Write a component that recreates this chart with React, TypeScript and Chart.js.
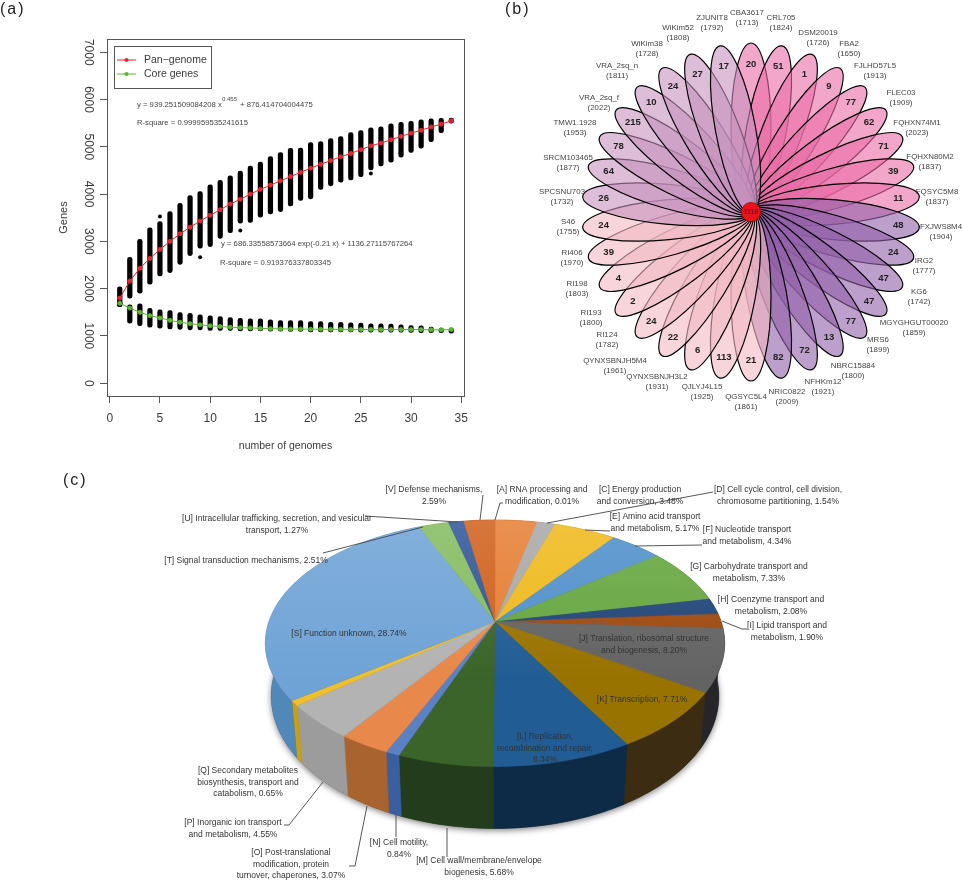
import React, { useEffect, useRef } from "react";
import { Chart, registerables } from "chart.js";
Chart.register(...registerables);

const FONT = '"Liberation Sans", Arial, sans-serif';
const INK = "#3a3a3a";

// ---------- panel a ----------
const genomeCounts = [1,2,3,4,5,6,7,8,9,10,11,12,13,14,15,16,17,18,19,20,21,22,23,24,25,26,27,28,29,30,31,32,33,34];
const panMean = [1800,2160,2430,2640,2830,3000,3160,3300,3430,3550,3670,3790,3890,4000,4100,4190,4280,4370,4460,4550,4630,4710,4790,4860,4940,5020,5080,5150,5220,5290,5350,5420,5480,5550];
const coreMean = [1690,1590,1500,1430,1380,1330,1290,1260,1235,1215,1200,1185,1175,1170,1160,1155,1150,1148,1145,1143,1142,1140,1140,1138,1137,1137,1136,1136,1136,1135,1135,1130,1130,1135];
const panLow = [1620,1800,1905,2095,2270,2340,2515,2700,2855,2890,3065,3185,3385,3400,3510,3580,3630,3750,3865,3900,4100,4175,4250,4300,4370,4510,4595,4675,4780,4880,4970,5110,5300,5500];
const panHigh = [2040,2665,3045,3285,3420,3630,3805,3970,4055,4195,4290,4385,4485,4595,4675,4795,4880,4970,4975,5090,5110,5175,5215,5300,5345,5400,5420,5485,5520,5540,5570,5590,5600,5605];
const coreLow = [1620,1270,1215,1185,1165,1150,1140,1130,1130,1115,1115,1115,1105,1105,1105,1100,1100,1095,1095,1085,1085,1085,1085,1085,1080,1080,1080,1080,1080,1075,1070,1070,1070,1060];
const coreHigh = [1750,1660,1680,1585,1550,1535,1495,1480,1445,1425,1410,1390,1375,1360,1360,1340,1325,1325,1325,1305,1305,1290,1290,1280,1270,1255,1255,1250,1235,1220,1215,1185,1165,1165];
const outlierX = [5,9,13,26,33];
const outlierY = [3525,2665,3230,4435,5345];
const xTickValues = [0,5,10,15,20,25,30,35];
const yTickValues = [0,1000,2000,3000,4000,5000,6000,7000];
const seriesNames = ["Pan\u2212genome","Core genes"];

// ---------- panel b ----------
const strainNames = ["CBA3617","CRL705","DSM20019","FBA2","FJLHD57L5","FLEC03","FQHXN74M1","FQHXN80M2","FQSYC5M8","FXJWS8M4","IRG2","KG6","MGYGHGUT00020","MRS6","NBRC15884","NFHKm12","NRIC0822","QGSYC5L4","QJLYJ4L15","QYNXSBNJH3L2","QYNXSBNJH5M4","RI124","RI193","RI198","RI406","S46","SPCSNU703","SRCM103465","TMW1.1928","VRA_2sq_f","VRA_2sq_n","WiKim38","WiKim52","ZJUNIT8"];
const strainGenes = [1713,1824,1726,1650,1913,1909,2023,1837,1837,1904,1777,1742,1859,1899,1800,1921,2009,1861,1925,1931,1961,1782,1800,1803,1970,1755,1732,1877,1953,2022,1811,1728,1808,1792];
const strainUnique = [20,51,1,9,77,62,71,39,11,48,24,47,47,77,13,72,82,21,113,6,22,24,2,4,39,24,26,64,78,215,10,24,27,17];
const coreCount = "1119";
const strainLabelX = [747,781,818,849,875,901,917,930,937,941,924,919,914,878,853,823,787,746,702,657,615,607,591,577,572,568,562,568,575,599,617,647,678,712];
const strainLabelY = [13,18,33,44,66,93,123,157,192,227,261,292,323,340,366,382,392,397,387,377,361,335,313,284,253,222,192,158,123,98,66,44,28,18];

// ---------- panel c ----------
const cogShare = [0.01,3.48,1.54,5.17,4.34,7.33,2.08,1.90,8.20,7.71,8.34,5.68,0.84,3.07,4.55,0.65,28.74,2.51,1.27,2.59];
const cogTop = ["#5b9bd5","#e67e34","#a8a8a8","#efb91c","#4f8fca","#65a63f","#1f4478","#9e480e","#636363","#997300","#215c94","#3a6429","#5b80c4","#e8884a","#b3b3b3","#efc02c","#6fa3d6","#84bb60","#2f5597","#d0601c"];
const cogWall = ["#3c6f9e","#a85a24","#777777","#b98f10","#356a9c","#48782c","#12294a","#6a300a","#26262a","#3b2c12","#0d2a47","#233c1c","#3a5fa0","#a9632f","#9c9c9c","#caa10d","#5088ba","#5f8a44","#1e3a6a","#99461a"];
const cogLabels: string[][] = [
  ["[V] Defense mechanisms,","2.59%"],["[A] RNA processing and","modification, 0.01%"],["[C] Energy production","and conversion, 3.48%"],
  ["[D] Cell cycle control, cell division,","chromosome partitioning, 1.54%"],["[E] Amino acid transport","and metabolism, 5.17%"],
  ["[F] Nucleotide transport","and metabolism, 4.34%"],["[G] Carbohydrate transport and","metabolism, 7.33%"],["[H] Coenzyme transport and","metabolism, 2.08%"],
  ["[I] Lipid transport and","metabolism, 1.90%"],["[J] Translation, ribosomal structure","and biogenesis, 8.20%"],["[K] Transcription, 7.71%"],
  ["[L] Replication,","recombination and repair,","8.34%"],["[M] Cell wall/membrane/envelope","biogenesis, 5.68%"],["[N] Cell motility,","0.84%"],
  ["[O] Post-translational","modification, protein","turnover, chaperones, 3.07%"],["[P] Inorganic ion transport","and metabolism, 4.55%"],
  ["[Q] Secondary metabolites","biosynthesis, transport and","catabolism, 0.65%"],["[S] Function unknown, 28.74%"],
  ["[T] Signal transduction mechanisms, 2.51%"],["[U] Intracellular trafficking, secretion, and vesicular","transport, 1.27%"],
];
const cogLabelX = [434,542,640,778,655,747,749,771,787,644,642,545,479,399,291,233,248,349,246,277];
const cogLabelY = [490,490,490,490,517,530,567,600,626,639,700,737,861,843,853,823,771,634,561,519];
const cogLeaders: number[][] = [
  [480,520,483,495],[495,520,500,503,503,503],[458,522,365,516],[423,527,323,553],[547,523,713,492],[585,530,610,531],[635,546,702,545],
  [722,621,742,629,747,629],[323,782,289,825,284,825],[367,806,355,866,349,866],[396,815,396,837],[447,828,447,857],
];

function useChart(build: (c: HTMLCanvasElement) => Chart) {
  const ref = useRef<HTMLCanvasElement>(null);
  useEffect(() => {
    const chart = build(ref.current!);
    return () => chart.destroy();
  }, []);
  return ref;
}

function lines(ctx: CanvasRenderingContext2D, rows: string[], x: number, y: number, lh: number) {
  rows.forEach((r, i) => ctx.fillText(r, x, y + i * lh));
}

const PanelA = () => {
  const ref = useChart((canvas) => {
    const overlay = {
      id: "overlay",
      afterDatasetsDraw(chart: any) {
        const { ctx, chartArea: a } = chart;
        ctx.save();
        ctx.strokeStyle = "#555";
        ctx.lineWidth = 1;
        ctx.strokeRect(a.left + 0.5, a.top + 0.5, a.width, a.height);
        ctx.strokeRect(114.5, 46.5, 97, 42);
        const colors = ["#e8252c", "#5cb531"];
        [60, 74].forEach((y, i) => {
          ctx.strokeStyle = colors[i];
          ctx.fillStyle = colors[i];
          ctx.lineWidth = 1;
          ctx.beginPath(); ctx.moveTo(117, y); ctx.lineTo(136, y); ctx.stroke();
          ctx.beginPath(); ctx.arc(126.5, y, 2, 0, Math.PI * 2); ctx.fill();
          ctx.fillStyle = "#3a3a3a";
          ctx.font = `10.5px ${FONT}`;
          ctx.textAlign = "left"; ctx.textBaseline = "middle";
          ctx.fillText(seriesNames[i], 144, y);
        });
        ctx.font = `7.7px ${FONT}`;
        ctx.fillStyle = "#444";
        ctx.fillText("y = 939.251509084208 x", 137, 105);
        ctx.font = `6px ${FONT}`;
        ctx.fillText("0.455", 222, 99);
        ctx.font = `7.7px ${FONT}`;
        ctx.fillText("+ 876.414704004475", 240, 105);
        ctx.fillText("R-square = 0.999959535241615", 137, 123);
        ctx.fillText("y = 686.33558573664 exp(-0.21 x) + 1136.27115767264", 221, 244);
        ctx.fillText("R-square = 0.919376337803345", 220, 263);
        ctx.restore();
      },
    };
    return new Chart(canvas, {
      type: "bar",
      plugins: [overlay],
      data: {
        datasets: [
          { type: "bar", order: 5, grouped: false, data: genomeCounts.map((x, i) => ({ x, y: [panLow[i], panHigh[i]] })), backgroundColor: "#000", barThickness: 4.6, borderRadius: 2.3, borderSkipped: false },
          { type: "bar", order: 5, grouped: false, data: genomeCounts.map((x, i) => ({ x, y: [coreLow[i], coreHigh[i]] })), backgroundColor: "#000", barThickness: 4.6, borderRadius: 2.3, borderSkipped: false },
          { type: "scatter", order: 4, data: outlierX.map((x, i) => ({ x, y: outlierY[i] })), backgroundColor: "#000", pointRadius: 2, borderWidth: 0 },
          { type: "line", order: 2, label: seriesNames[0], data: genomeCounts.map((x, i) => ({ x, y: panMean[i] })), borderColor: "#e8252c", backgroundColor: "#e8252c", borderWidth: 1, pointRadius: 2 },
          { type: "line", order: 1, label: seriesNames[1], data: genomeCounts.map((x, i) => ({ x, y: coreMean[i] })), borderColor: "#5cb531", backgroundColor: "#5cb531", borderWidth: 1, pointRadius: 2 },
        ],
      } as any,
      options: {
        responsive: false, animation: false, devicePixelRatio: 1,
        layout: { padding: { top: 39, right: 26, left: 0, bottom: 0 } },
        plugins: { legend: { display: false }, tooltip: { enabled: false } },
        scales: {
          x: {
            type: "linear", offset: false, min: -0.27, max: 35.27,
            afterBuildTicks: (s: any) => { s.ticks = xTickValues.map((value) => ({ value })); },
            afterFit: (s: any) => { s.height = 74; },
            grid: { drawOnChartArea: false, tickLength: 7, color: "#555", offset: false },
            border: { color: "#555" },
            ticks: { autoSkip: false, maxRotation: 0, color: INK, font: { family: FONT, size: 12 }, padding: 8, callback: (v: number) => String(v) },
            title: { display: true, text: "number of genomes", color: INK, font: { family: FONT, size: 10.5 }, padding: { top: 0, bottom: 18 } },
          },
          y: {
            min: -270, max: 7280,
            afterBuildTicks: (s: any) => { s.ticks = yTickValues.map((value) => ({ value })); },
            afterFit: (s: any) => { s.width = 107; },
            grid: { drawOnChartArea: false, tickLength: 7, color: "#555" },
            border: { color: "#555" },
            ticks: { autoSkip: false, minRotation: -90, maxRotation: -90, crossAlign: "center", color: INK, font: { family: FONT, size: 12 }, padding: -2, callback: (v: number) => String(v) },
            title: { display: true, text: "Genes", color: INK, font: { family: FONT, size: 11 }, padding: { top: 57, bottom: 0 } },
          },
        },
      } as any,
    });
  });
  return <canvas ref={ref} width={490} height={470} style={{ position: "absolute", left: 0, top: 0 }} />;
};

const PanelB = () => {
  const ref = useChart((canvas) => {
    const fills = (i: number) => i < 9 ? "rgba(233,108,167,0.6)" : i < 17 ? "rgba(145,95,168,0.6)" : i < 26 ? "rgba(242,185,195,0.6)" : "rgba(198,145,190,0.6)";
    const flower = {
      id: "flower",
      afterDatasetsDraw(chart: any) {
        const { ctx } = chart;
        const arcs = chart.getDatasetMeta(0).data;
        ctx.save();
        arcs.forEach((arc: any, i: number) => {
          const { x, y, startAngle, endAngle } = arc.getProps(["x", "y", "startAngle", "endAngle"], true);
          const mid = (startAngle + endAngle) / 2;
          ctx.beginPath();
          ctx.ellipse(x + 84 * Math.cos(mid), y + 84 * Math.sin(mid), 85, 20, mid, 0, Math.PI * 2);
          ctx.fillStyle = fills(i);
          ctx.fill();
          ctx.strokeStyle = "#000";
          ctx.lineWidth = 1.2;
          ctx.stroke();
        });
        ctx.textAlign = "center"; ctx.textBaseline = "middle";
        arcs.forEach((arc: any, i: number) => {
          const { x, y, startAngle, endAngle } = arc.getProps(["x", "y", "startAngle", "endAngle"], true);
          const mid = (startAngle + endAngle) / 2;
          ctx.fillStyle = "#222";
          ctx.font = `bold 9.5px ${FONT}`;
          ctx.fillText(String(strainUnique[i]), x + 148 * Math.cos(mid), y + 148 * Math.sin(mid));
          ctx.fillStyle = "#444";
          ctx.font = `7.9px ${FONT}`;
          const lx = strainLabelX[i] - 490, ly = strainLabelY[i];
          ctx.fillText(strainNames[i], lx, ly);
          ctx.fillText(`(${strainGenes[i]})`, lx, ly + 10);
        });
        const c = arcs[0].getProps(["x", "y"], true);
        ctx.beginPath(); ctx.arc(c.x, c.y, 9.5, 0, Math.PI * 2);
        ctx.fillStyle = "#e8141c"; ctx.fill();
        ctx.strokeStyle = "#a00"; ctx.lineWidth = 0.8; ctx.stroke();
        ctx.fillStyle = "#222"; ctx.font = `7px ${FONT}`;
        ctx.fillText(coreCount, c.x, c.y);
        ctx.restore();
      },
    };
    return new Chart(canvas, {
      type: "polarArea",
      plugins: [flower],
      data: { labels: strainNames, datasets: [{ data: strainGenes, backgroundColor: "transparent", borderWidth: 0 }] },
      options: {
        responsive: false, animation: false, devicePixelRatio: 1,
        layout: { padding: { left: 51, bottom: 45, top: 0, right: 0 } },
        plugins: { legend: { display: false }, tooltip: { enabled: false } },
        scales: { r: { display: false, startAngle: -180 / strainNames.length } },
      } as any,
    });
  });
  return <canvas ref={ref} width={472} height={470} style={{ position: "absolute", left: 490, top: 0 }} />;
};

const PanelC = () => {
  const ref = useChart((canvas) => {
    const cx = 495, cy = 621.7, R = 226.1, Rb = 119.5, k = 0.1756, depth = 51;
    const pt = (t: number, d: number) => {
      const u = Math.cos(t), v = Math.sin(t), w = 1 - k * v;
      return [cx + ((R * u) / w) * (1 - d * 0.0005), cy + (Rb * v + d) / w];
    };
    const pie = {
      id: "pie3d",
      afterDatasetsDraw(chart: any) {
        const { ctx } = chart;
        const arcs = chart.getDatasetMeta(0).data.map((a: any) => a.getProps(["startAngle", "endAngle"], true));
        ctx.save();
        ctx.translate(0, -470);
        const arcPath = (s: number, e: number, d: number, move: boolean) => {
          const n = Math.max(2, Math.ceil((Math.abs(e - s) * 180) / Math.PI));
          for (let j = 0; j <= n; j++) {
            const p = pt(s + ((e - s) * j) / n, d);
            if (j === 0 && move) ctx.moveTo(p[0], p[1]); else ctx.lineTo(p[0], p[1]);
          }
        };
        ctx.save();
        ctx.shadowColor = "rgba(0,0,0,0.5)"; ctx.shadowBlur = 6; ctx.shadowOffsetY = 2;
        ctx.beginPath(); arcPath(0, Math.PI * 2, depth, true); ctx.closePath();
        ctx.fillStyle = "#444"; ctx.fill();
        ctx.restore();
        arcs.forEach((a: any, i: number) => {
          ctx.beginPath();
          arcPath(a.startAngle, a.endAngle, 0, true);
          arcPath(a.endAngle, a.startAngle, depth, false);
          ctx.closePath();
          ctx.fillStyle = cogWall[i]; ctx.fill();
          ctx.strokeStyle = cogWall[i]; ctx.lineWidth = 0.5; ctx.stroke();
        });
        arcs.forEach((a: any, i: number) => {
          ctx.beginPath();
          ctx.moveTo(cx, cy);
          arcPath(a.startAngle, a.endAngle, 0, false);
          ctx.closePath();
          ctx.fillStyle = cogTop[i]; ctx.fill();
          ctx.strokeStyle = cogTop[i]; ctx.lineWidth = 0.4; ctx.stroke();
        });
        ctx.beginPath(); arcPath(0, Math.PI * 2, 0, true); ctx.closePath();
        const g = ctx.createLinearGradient(0, 520, 0, 680);
        g.addColorStop(0, "rgba(255,255,255,0.14)"); g.addColorStop(1, "rgba(255,255,255,0)");
        ctx.fillStyle = g; ctx.fill();
        ctx.strokeStyle = "#444"; ctx.lineWidth = 0.9;
        cogLeaders.forEach((l) => {
          ctx.beginPath(); ctx.moveTo(l[0], l[1]);
          for (let j = 2; j < l.length; j += 2) ctx.lineTo(l[j], l[j + 1]);
          ctx.stroke();
        });
        ctx.fillStyle = "#333"; ctx.font = `8.5px ${FONT}`;
        ctx.textAlign = "center"; ctx.textBaseline = "middle";
        cogLabels.forEach((rows, i) => lines(ctx, rows, cogLabelX[i], cogLabelY[i], 11.3));
        ctx.restore();
      },
    };
    return new Chart(canvas, {
      type: "pie",
      plugins: [pie],
      data: { labels: cogLabels.map((r) => r[0]), datasets: [{ data: cogShare, backgroundColor: "transparent", borderWidth: 0 }] },
      options: {
        responsive: false, animation: false, devicePixelRatio: 1,
        plugins: { legend: { display: false }, tooltip: { enabled: false } },
      } as any,
    });
  });
  return <canvas ref={ref} width={962} height={411} style={{ position: "absolute", left: 0, top: 470 }} />;
};

const tagStyle = (left: number, top: number): React.CSSProperties => ({
  position: "absolute", left, top, font: `16px ${FONT}`, color: "#222", letterSpacing: 2, lineHeight: "18px", whiteSpace: "pre",
});

export default function App() {
  return (
    <div style={{ position: "absolute", left: 0, top: 0, width: 962, height: 881, background: "#fff", overflow: "hidden" }}>
      <PanelA />
      <PanelB />
      <PanelC />
      <div style={tagStyle(0, 0)}>(a)</div>
      <div style={tagStyle(505, 0)}>(b)</div>
      <div style={tagStyle(63, 471)}>(c)</div>
    </div>
  );
}
